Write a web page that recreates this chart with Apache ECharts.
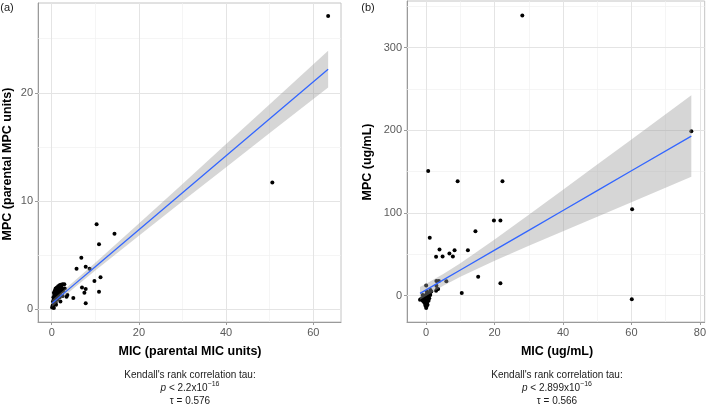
<!DOCTYPE html>
<html>
<head>
<meta charset="utf-8">
<script src="https://cdn.jsdelivr.net/npm/echarts@6/dist/echarts.min.js"></script>
<style>html,body{margin:0;padding:0;background:#fff}#c{width:709px;height:408px}</style>
</head>
<body>
<div id="c"></div>
<script>
// ---------- Panel (a): parental units ----------
const micA = [63.4,50.6,10.3,14.4,10.85,6.8,5.7,7.8,8.7,11.2,9.8,6.95,7.8,7.5,10.85,7.8,4.96,3.4,
  0.1,0.2,0.3,0.4,0.3,0.5,0.4,0.6,0.5,0.7,0.9,1.2,1.5,1.8,2.1,2.5,2.9,0.8,1.0,1.1,0.9,0.7,0.6,0.9,1.3,1.2,1.4,1.7,2.0,2.3,1.6,1.9,2.2,1.4,1.1,2.6,3.0,0.5,1.0,1.8,2.5,3.6,2.0];
const mpcA = [27.1,11.7,7.85,6.96,6.0,4.75,3.72,3.92,3.72,2.93,2.58,2.0,1.85,1.5,1.6,0.53,1.02,1.14,
  0.15,0.3,0.2,0.45,0.7,0.9,1.1,1.3,1.5,1.7,1.9,2.0,2.1,2.2,2.25,2.3,2.3,1.45,1.6,1.25,1.05,0.8,0.55,0.6,0.9,1.5,1.7,1.8,1.9,2.0,1.35,1.5,1.6,1.1,0.85,1.7,1.9,0.1,0.4,1.1,1.2,1.3,0.7];
const fitXA = [0.1, 5, 10, 20, 30, 40, 50, 63.4];
const fitYA = [0.53, 2.21, 3.92, 7.34, 10.76, 14.18, 17.6, 22.18];
const loA   = [0.22, 1.9, 3.56, 6.78, 9.96, 13.11, 16.27, 20.48];
const hiA   = [0.84, 2.52, 4.28, 7.9, 11.56, 15.25, 18.93, 23.88];
const xTicksA = [0, 20, 40, 60];
const xMinorA = [10, 30, 50];
const yTicksA = [0, 10, 20];
const yMinorA = [5, 15, 25];

// ---------- Panel (b): ug/mL ----------
const micB = [28.1,77.5,60.2,60.1,0.6,9.2,22.3,19.8,21.7,14.4,1.05,3.9,8.3,12.2,6.8,4.8,2.9,7.8,15.2,21.7,10.4,5.9,3.0,3.7,
  0.0,1.24,2.9,3.2,3.5,3.0,
  -1.8,-1.5,-1.2,-1.0,-0.8,-0.6,-0.5,-0.3,-0.2,0.0,0.1,0.2,0.3,0.4,0.5,0.6,0.8,1.0,1.2,-0.2,0.0,0.3,-0.5,0.9,1.5,0.2,-1.0,0.7,0.4,-0.1];
const mpcB = [339,198.9,104.7,-4.4,151,138.5,138.5,91,91,78,70,56,55,55,51,47.5,47,47.5,23,15,3.2,17.5,17.8,17.8,
  12.5,6.9,6,8,8,12,
  -5,-4,-3,-6,-2,-8,-4,-10,-12,-15,-13,-9,-7,-5,-2,0,2,3,1,-1,1,3,0,-3,5,5,1,-6,-11,-7];
const fitXB = [-1.8, 0, 5, 10, 20, 30, 40, 50, 60, 77.5];
const fitYB = [2.78, 7.1, 19.1, 31.1, 55.1, 79.1, 103.1, 127.1, 151.1, 193.1];
const loB   = [-5.0, -0.3, 12.0, 22.9, 42.2, 60.3, 78.0, 95.6, 113.1, 143.8];
const hiB   = [10.6, 14.5, 26.2, 39.3, 68.0, 97.9, 128.2, 158.6, 189.1, 242.4];
const xTicksB = [0, 20, 40, 60, 80];
const xMinorB = [10, 30, 50, 70];
const yTicksB = [0, 100, 200, 300];
const yMinorB = [50, 150, 250, 350];

const FONT = 'Liberation Sans, Arial, sans-serif';
const zip = (a, b) => a.map((v, i) => [v, b[i]]);

function xAxisCfg(idx, min, max, ticks) {
  return {
    type: 'value', gridIndex: idx, min: min, max: max,
    axisLine: { show: true, onZero: false, lineStyle: { color: '#9a9a9a', width: 1 } },
    axisTick: { show: true, length: 3, lineStyle: { color: '#9a9a9a' }, customValues: ticks },
    axisLabel: { color: '#5a5a5a', fontSize: 11, fontFamily: FONT, margin: 5, customValues: ticks },
    splitLine: { show: false }
  };
}
function yAxisCfg(idx, min, max, ticks) {
  return {
    type: 'value', gridIndex: idx, min: min, max: max,
    axisLine: { show: true, onZero: false, lineStyle: { color: '#9a9a9a', width: 1 } },
    axisTick: { show: true, length: 3, lineStyle: { color: '#9a9a9a' }, customValues: ticks },
    axisLabel: { color: '#5a5a5a', fontSize: 11, fontFamily: FONT, margin: 5, customValues: ticks },
    splitLine: { show: false }
  };
}

function gridSeries(idx, xMaj, xMin, yMaj, yMin) {
  const data = [];
  xMin.forEach(v => data.push({ xAxis: v, lineStyle: { color: '#f0f0f0', width: 0.7, type: 'solid' } }));
  yMin.forEach(v => data.push({ yAxis: v, lineStyle: { color: '#f0f0f0', width: 0.7, type: 'solid' } }));
  xMaj.forEach(v => data.push({ xAxis: v, lineStyle: { color: '#e4e4e4', width: 1, type: 'solid' } }));
  yMaj.forEach(v => data.push({ yAxis: v, lineStyle: { color: '#e4e4e4', width: 1, type: 'solid' } }));
  return {
    type: 'scatter', xAxisIndex: idx, yAxisIndex: idx, data: [], z: 1, silent: true,
    markLine: { z: 1, zlevel: 0, silent: true, symbol: ['none', 'none'], label: { show: false }, animation: false, data: data }
  };
}

function ribbonSeries(idx, xs, lo, hi) {
  return {
    type: 'custom', xAxisIndex: idx, yAxisIndex: idx, z: 11, silent: true,
    data: [0],
    renderItem: function (params, api) {
      const pts = [];
      for (let i = 0; i < xs.length; i++) pts.push(api.coord([xs[i], hi[i]]));
      for (let i = xs.length - 1; i >= 0; i--) pts.push(api.coord([xs[i], lo[i]]));
      return { type: 'polygon', shape: { points: pts }, style: { fill: 'rgba(153,153,153,0.4)', stroke: 'none' } };
    }
  };
}

function fitSeries(idx, xs, ys) {
  return {
    type: 'line', xAxisIndex: idx, yAxisIndex: idx, z: 12, silent: true,
    data: zip(xs, ys), showSymbol: false, symbol: 'none',
    lineStyle: { color: '#3366FF', width: 1.3 }
  };
}

function pointSeries(idx, xs, ys) {
  return {
    type: 'scatter', xAxisIndex: idx, yAxisIndex: idx, z: 10, silent: true,
    data: zip(xs, ys), symbolSize: 4,
    itemStyle: { color: '#000', opacity: 1, borderWidth: 0 }
  };
}

const txt = (x, y, text, opts) => Object.assign({
  type: 'text', x: x, y: y, silent: true,
  style: Object.assign({ text: text, fontFamily: FONT, fontSize: 10, fill: '#1a1a1a', align: 'center', verticalAlign: 'middle' }, opts || {})
});

const rich = {
  i: { fontStyle: 'italic', fontSize: 10, fontFamily: FONT, fill: '#1a1a1a' },
  s: { fontSize: 7, fontFamily: FONT, fill: '#1a1a1a', verticalAlign: 'top', lineHeight: 14 },
  n: { fontSize: 10, fontFamily: FONT, fill: '#1a1a1a', lineHeight: 14 }
};

const chart = echarts.init(document.getElementById('c'), null, { renderer: 'canvas' });
chart.setOption({
  animation: false,
  backgroundColor: '#fff',
  grid: [
    { left: 38, top: 3, width: 303, height: 319, show: true, borderColor: '#c4c4c4', borderWidth: 1, backgroundColor: 'transparent' },
    { left: 407, top: 1, width: 300.5, height: 321, show: true, borderColor: '#c4c4c4', borderWidth: 1, backgroundColor: 'transparent' }
  ],
  xAxis: [xAxisCfg(0, -3.14, 66.35, xTicksA), xAxisCfg(1, -5.6, 81.4, xTicksB)],
  yAxis: [yAxisCfg(0, -1.2, 28.3, yTicksA), yAxisCfg(1, -31.8, 356.5, yTicksB)],
  series: [
    gridSeries(0, xTicksA, xMinorA, yTicksA, yMinorA),
    gridSeries(1, xTicksB, xMinorB, yTicksB, yMinorB),
    pointSeries(0, micA, mpcA),
    pointSeries(1, micB, mpcB),
    ribbonSeries(0, fitXA, loA, hiA),
    ribbonSeries(1, fitXB, loB, hiB),
    fitSeries(0, fitXA, fitYA),
    fitSeries(1, fitXB, fitYB)
  ],
  graphic: [
    txt(7, 8, '(a)', { fontSize: 11, align: 'center' }),
    txt(368, 8, '(b)', { fontSize: 11, align: 'center' }),
    Object.assign(txt(0, 0, 'MPC (parental MPC units)', { fontSize: 12.5, fontWeight: 'bold', fill: '#000' }), { x: 8, y: 164, rotation: Math.PI / 2 }),
    Object.assign(txt(0, 0, 'MPC (ug/mL)', { fontSize: 12.5, fontWeight: 'bold', fill: '#000' }), { x: 368, y: 162, rotation: Math.PI / 2 }),
    txt(190, 352, 'MIC (parental MIC units)', { fontSize: 12.5, fontWeight: 'bold', fill: '#000' }),
    txt(557, 352, 'MIC (ug/mL)', { fontSize: 12.5, fontWeight: 'bold', fill: '#000' }),
    txt(190, 375, "Kendall's rank correlation tau:"),
    txt(190, 388, '{i|p}{n| < 2.2x10}{s|\u221216}', { rich: rich }),
    txt(190, 401, '\u03c4 = 0.576'),
    txt(557, 375, "Kendall's rank correlation tau:"),
    txt(557, 388, '{i|p}{n| < 2.899x10}{s|\u221216}', { rich: rich }),
    txt(557, 401, '\u03c4 = 0.566')
  ]
});
</script>
</body>
</html>
